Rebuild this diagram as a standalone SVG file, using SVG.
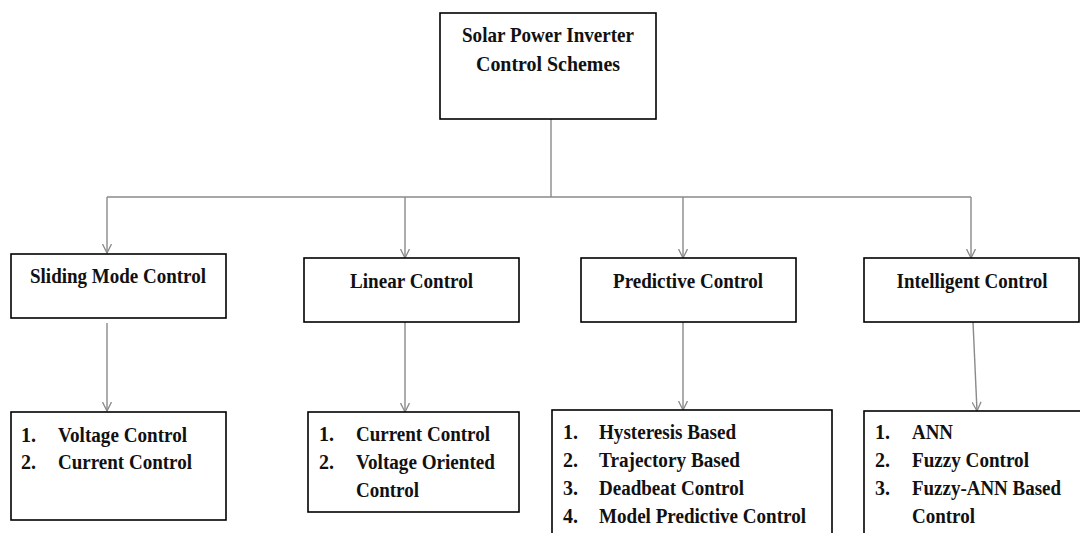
<svg xmlns="http://www.w3.org/2000/svg" width="1080" height="533" viewBox="0 0 1080 533">
<style>
.box{fill:#fff;stroke:#000;stroke-width:1.6}
.t{font-family:"Liberation Serif","Times New Roman",serif;font-weight:bold;font-size:20px;fill:#111}
.h{text-anchor:middle}
.r{font-size:21px}
.c{fill:none;stroke:#8a8a8a;stroke-width:1.4}
</style>
<defs>
<marker id="arr" viewBox="0 0 10 10" refX="9.5" refY="5" markerWidth="10" markerHeight="10" markerUnits="userSpaceOnUse" orient="auto">
<path d="M0.5,0.5 L9.5,5 L0.5,9.5" fill="none" stroke="#8a8a8a" stroke-width="1.3"/>
</marker>
</defs>
<rect width="1080" height="533" fill="#fff"/>
<g id="connectors">
<path class="c" d="M551,119 V197"/>
<path class="c" d="M107,197 H971"/>
<path class="c" d="M107,197 V253" marker-end="url(#arr)"/>
<path class="c" d="M405,197 V258" marker-end="url(#arr)"/>
<path class="c" d="M683,197 V258" marker-end="url(#arr)"/>
<path class="c" d="M971,197 V258" marker-end="url(#arr)"/>
<path class="c" d="M107,323 V411" marker-end="url(#arr)"/>
<path class="c" d="M405,322 V412" marker-end="url(#arr)"/>
<path class="c" d="M683,322 V410" marker-end="url(#arr)"/>
<path class="c" d="M973,322 L977,411" marker-end="url(#arr)"/>
</g>
<g id="root">
<rect class="box" x="440" y="13" width="216" height="106"/>
<text class="t h r" x="548" y="42" textLength="172" lengthAdjust="spacingAndGlyphs">Solar Power Inverter</text>
<text class="t h r" x="548" y="71" textLength="144" lengthAdjust="spacingAndGlyphs">Control Schemes</text>
</g>
<g id="sliding">
<rect class="box" x="11" y="254" width="215" height="64"/>
<text class="t h" x="118" y="283" textLength="176" lengthAdjust="spacingAndGlyphs">Sliding Mode Control</text>
</g>
<g id="linear">
<rect class="box" x="304" y="258" width="215" height="64"/>
<text class="t h" x="411.5" y="288" textLength="123" lengthAdjust="spacingAndGlyphs">Linear Control</text>
</g>
<g id="predictive">
<rect class="box" x="581" y="258" width="215" height="64"/>
<text class="t h" x="688" y="288" textLength="150" lengthAdjust="spacingAndGlyphs">Predictive Control</text>
</g>
<g id="intelligent">
<rect class="box" x="864" y="258" width="215" height="64"/>
<text class="t h" x="972" y="288" textLength="151" lengthAdjust="spacingAndGlyphs">Intelligent Control</text>
</g>
<g id="sliding-list">
<rect class="box" x="11" y="412" width="215" height="108"/>
<text class="t" x="21" y="442">1.</text><text class="t" x="58" y="442" textLength="129" lengthAdjust="spacingAndGlyphs">Voltage Control</text>
<text class="t" x="21" y="469">2.</text><text class="t" x="58" y="469" textLength="134" lengthAdjust="spacingAndGlyphs">Current Control</text>
</g>
<g id="linear-list">
<rect class="box" x="308" y="412" width="211" height="100"/>
<text class="t" x="319" y="441">1.</text><text class="t" x="356" y="441" textLength="134" lengthAdjust="spacingAndGlyphs">Current Control</text>
<text class="t" x="319" y="469">2.</text><text class="t" x="356" y="469" textLength="139" lengthAdjust="spacingAndGlyphs">Voltage Oriented</text>
<text class="t" x="356" y="497" textLength="63" lengthAdjust="spacingAndGlyphs">Control</text>
</g>
<g id="predictive-list">
<rect class="box" x="552" y="410" width="280" height="140"/>
<text class="t" x="563" y="439">1.</text><text class="t" x="599" y="439" textLength="137" lengthAdjust="spacingAndGlyphs">Hysteresis Based</text>
<text class="t" x="563" y="467">2.</text><text class="t" x="599" y="467" textLength="141" lengthAdjust="spacingAndGlyphs">Trajectory Based</text>
<text class="t" x="563" y="495">3.</text><text class="t" x="599" y="495" textLength="145" lengthAdjust="spacingAndGlyphs">Deadbeat Control</text>
<text class="t" x="563" y="523">4.</text><text class="t" x="599" y="523" textLength="207" lengthAdjust="spacingAndGlyphs">Model Predictive Control</text>
</g>
<g id="intelligent-list">
<rect class="box" x="864" y="411" width="230" height="140"/>
<text class="t" x="875" y="439">1.</text><text class="t" x="912" y="439" textLength="41" lengthAdjust="spacingAndGlyphs">ANN</text>
<text class="t" x="875" y="467">2.</text><text class="t" x="912" y="467" textLength="117" lengthAdjust="spacingAndGlyphs">Fuzzy Control</text>
<text class="t" x="875" y="495">3.</text><text class="t" x="912" y="495" textLength="149" lengthAdjust="spacingAndGlyphs">Fuzzy-ANN Based</text>
<text class="t" x="912" y="523" textLength="63" lengthAdjust="spacingAndGlyphs">Control</text>
</g>
</svg>
